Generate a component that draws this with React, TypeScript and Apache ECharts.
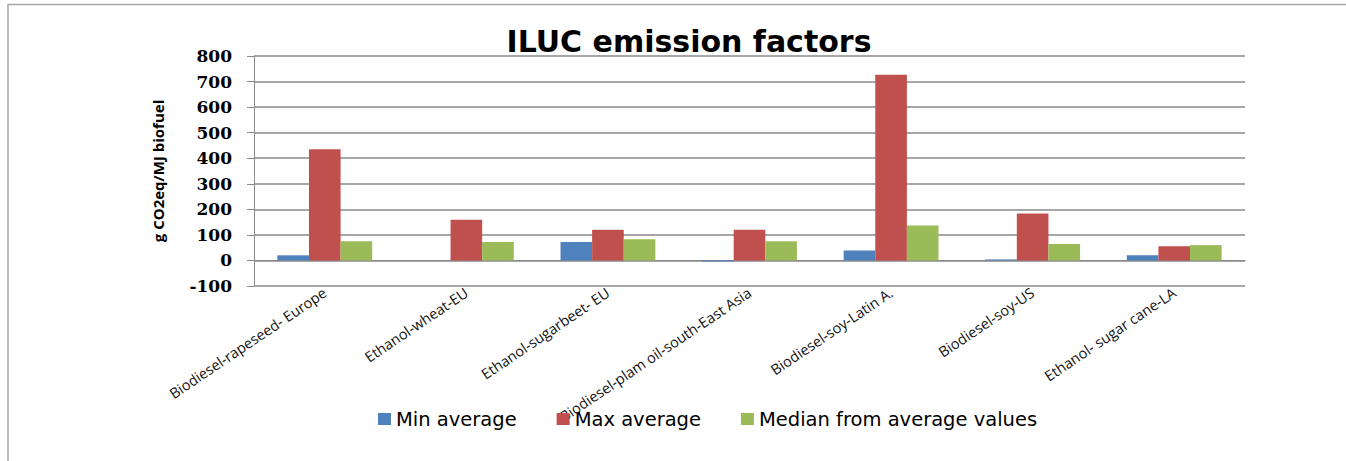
import React, { useEffect, useRef } from "react";
import * as echarts from "echarts";

// Biofuel pathways on the category axis
const categories = [
  "Biodiesel-rapeseed- Europe",
  "Ethanol-wheat-EU",
  "Ethanol-sugarbeet- EU",
  "Biodiesel-plam oil-south-East Asia",
  "Biodiesel-soy-Latin A.",
  "Biodiesel-soy-US",
  "Ethanol- sugar cane-LA",
];

// ILUC emission factors, g CO2eq/MJ biofuel
const minAverage = [20, 0, 72, -4, 39, 4, 20];
const maxAverage = [435, 159, 120, 120, 727, 184, 56];
const medianFromAverages = [75, 72, 83, 75, 137, 64, 60];

const seriesNames = ["Min average", "Max average", "Median from average values"];
const seriesColors = ["#4F81BD", "#C0504D", "#9BBB59"];

const yMin = -100;
const yMax = 800;
const yStep = 100;

const W = 1346;
const H = 461;

export default function App() {
  const ref = useRef<HTMLDivElement>(null);

  useEffect(() => {
    if (!ref.current) return;
    const chart = echarts.init(ref.current, undefined, { renderer: "svg" });
    const gridColor = "#8a8a8a";

    const seriesData = [minAverage, maxAverage, medianFromAverages];

    chart.setOption({
      animation: false,
      backgroundColor: "#ffffff",
      title: {
        text: "ILUC emission factors",
        left: 684,
        top: 21,
        textAlign: "center",
        textStyle: {
          fontFamily: "DejaVu Sans",
          fontWeight: "bold",
          fontSize: 30,
          color: "#000",
        },
      },
      legend: {
        data: seriesNames,
        left: 373,
        top: 404,
        itemWidth: 13,
        itemHeight: 12,
        itemGap: 40,
        icon: "rect",
        textStyle: {
          fontFamily: "DejaVu Sans",
          fontSize: 19.5,
          color: "#000",
        },
      },
      grid: {
        left: 254,
        right: W - 1245,
        top: 56,
        bottom: H - 286,
        containLabel: false,
      },
      xAxis: {
        type: "category",
        data: categories,
        axisLine: { show: true, lineStyle: { color: gridColor, width: 1 } },
        axisTick: { show: false },
        axisLabel: {
          interval: 0,
          rotate: 34,
          margin: 5,
          fontFamily: "Open Sans",
          fontSize: 14.5,
          color: "#111",
        },
        splitLine: { show: false },
      },
      yAxis: {
        type: "value",
        min: yMin,
        max: yMax,
        interval: yStep,
        name: "g CO2eq/MJ biofuel",
        nameLocation: "middle",
        nameGap: 89,
        nameTextStyle: {
          fontFamily: "Open Sans",
          fontWeight: "bold",
          fontSize: 15,
          color: "#000",
        },
        axisLine: { show: true, lineStyle: { color: gridColor, width: 1 } },
        axisTick: { show: true, length: 7, inside: false, lineStyle: { color: gridColor } },
        axisLabel: {
          margin: 22,
          fontFamily: "DejaVu Serif",
          fontWeight: "bold",
          fontSize: 17,
          color: "#000",
        },
        splitLine: { show: true, lineStyle: { color: gridColor, width: 1.5 } },
      },
      series: seriesNames.map((name, i) => ({
        name,
        type: "bar",
        data: seriesData[i],
        barGap: "0%",
        barCategoryGap: "33%",
        itemStyle: { color: seriesColors[i] },
      })),
      graphic: [
        {
          type: "line",
          shape: { x1: 8, y1: 4.5, x2: W, y2: 4.5 },
          style: { stroke: "#a6a6a6", lineWidth: 1.5 },
          silent: true,
        },
        {
          type: "line",
          shape: { x1: 8, y1: 4, x2: 8, y2: H },
          style: { stroke: "#a6a6a6", lineWidth: 1.5 },
          silent: true,
        },
      ],
    });

    return () => chart.dispose();
  }, []);

  return (
    <div
      ref={ref}
      style={{ position: "absolute", left: 0, top: 0, width: W, height: H }}
    />
  );
}
